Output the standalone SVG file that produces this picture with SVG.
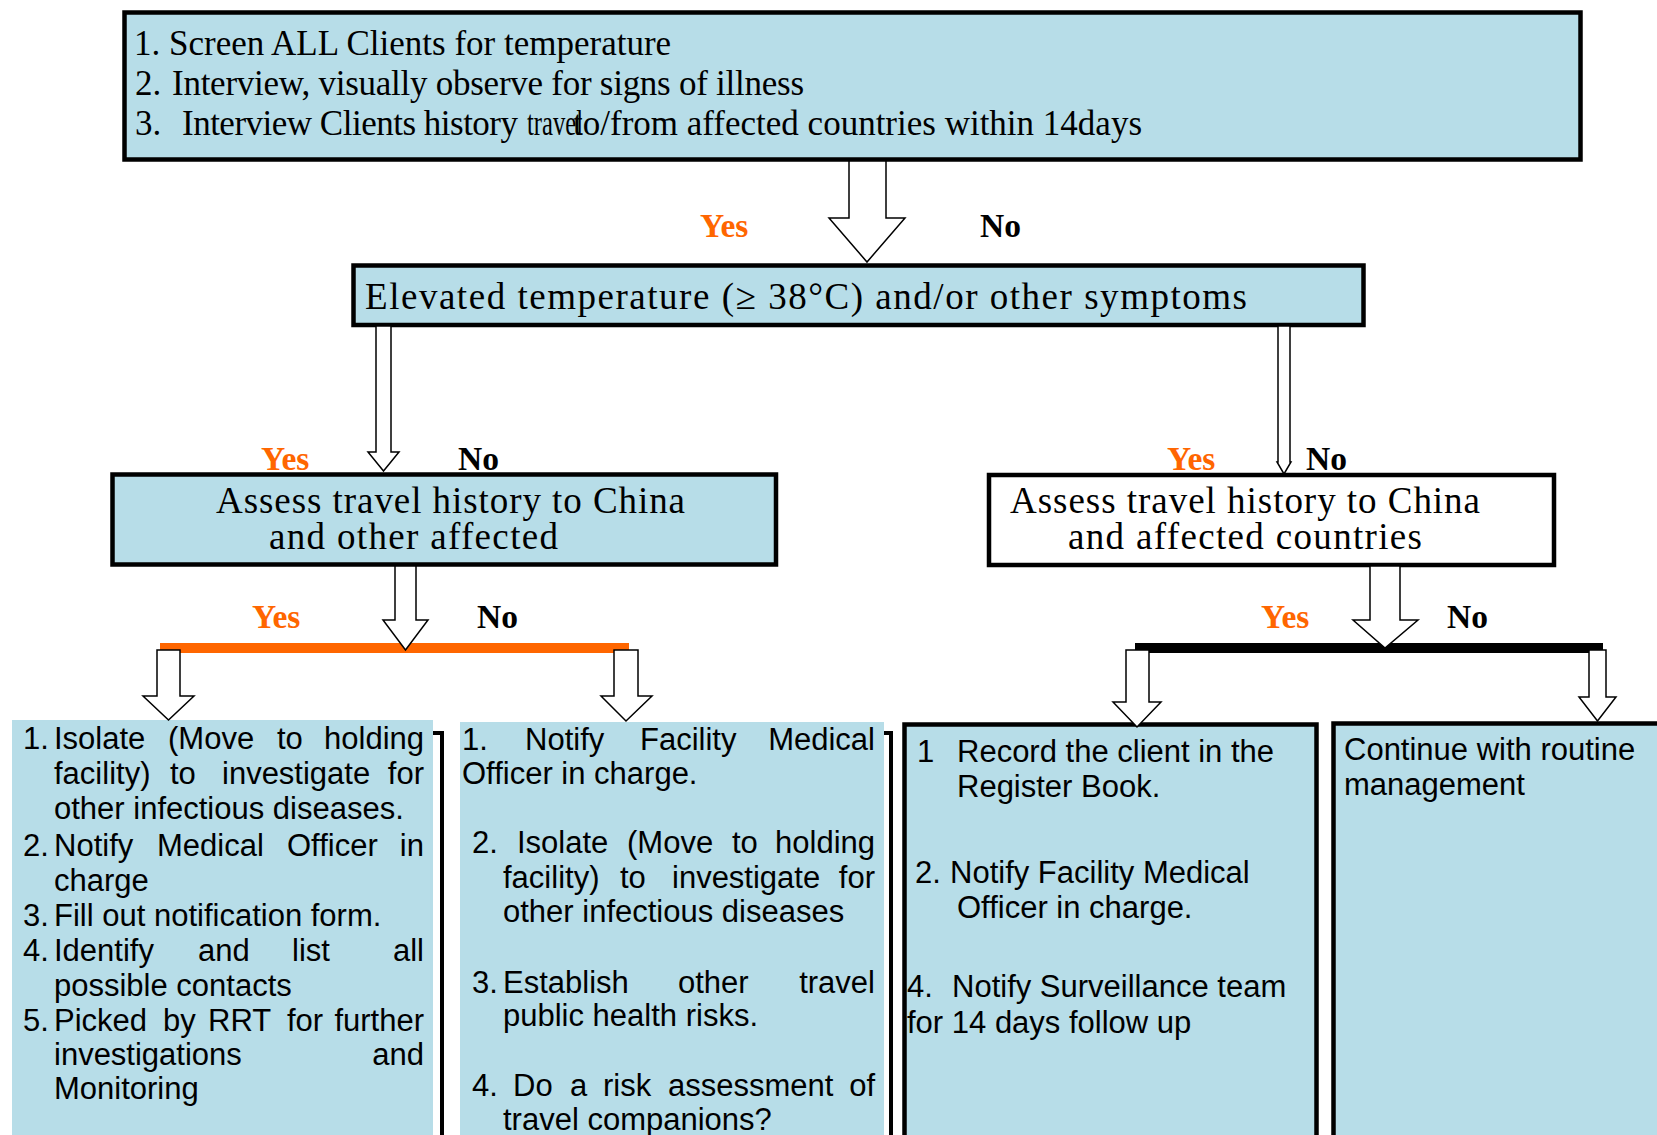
<svg xmlns="http://www.w3.org/2000/svg" width="1657" height="1135" viewBox="0 0 1657 1135">
<style>
.bg{fill:#ffffff}
.blue{fill:#b7dde8}
.bx{stroke:#000;stroke-width:4.5}
.ser{font-family:"Liberation Serif","Times New Roman",serif;fill:#000}
.top{font-size:35px}
.big{font-size:37px}
.yes{font-family:"Liberation Serif","Times New Roman",serif;font-weight:bold;font-size:33.5px;fill:#ff6600}
.no{font-family:"Liberation Serif","Times New Roman",serif;font-weight:bold;font-size:33.5px;fill:#000}
.sans{font-family:"Liberation Sans",Arial,sans-serif;font-size:31px;fill:#000}
.arr{fill:#fff;stroke:#000;stroke-width:1.5;stroke-linejoin:miter}
.brk{fill:none;stroke:#000;stroke-width:4}
</style>
<rect class="bg" x="0" y="0" width="1657" height="1135"/>

<g id="node-screen">
<rect class="blue bx" x="124.5" y="12.5" width="1456" height="147" stroke-width="5"/>
<text class="ser top" x="134" y="55">1. Screen ALL Clients for temperature</text>
<text class="ser top" x="135" y="95">2.</text>
<text class="ser top" x="172" y="95" textLength="632">Interview, visually observe for signs of illness</text>
<text class="ser top" x="135" y="135">3.</text>
<text class="ser top" x="182" y="135" textLength="336">Interview Clients history</text>
<text class="ser top" x="527" y="135" textLength="56" lengthAdjust="spacingAndGlyphs">travel</text>
<text class="ser top" x="1142" y="135" text-anchor="end">to/from affected countries within 14days</text>
</g>

<g id="node-elevated">
<rect class="blue bx" x="353.5" y="265.5" width="1010" height="59.5"/>
<text class="ser big" x="365" y="309" textLength="882">Elevated temperature (≥ 38°C) and/or other symptoms</text>
</g>

<g id="node-assess-left">
<rect class="blue bx" x="112.5" y="474.5" width="663.5" height="90"/>
<text class="ser big" x="216" y="513" textLength="469">Assess travel history to China</text>
<text class="ser big" x="269" y="549" textLength="289">and other affected</text>
</g>

<g id="node-assess-right">
<rect fill="#fff" class="bx" x="989" y="475" width="565" height="90"/>
<text class="ser big" x="1010" y="513" textLength="470">Assess travel history to China</text>
<text class="ser big" x="1068" y="549" textLength="354">and affected countries</text>
</g>

<g id="node-box1">
<rect class="blue" x="12" y="720" width="421" height="415"/>
<path class="brk" d="M433,733 H442 V1135"/>
<text class="sans" y="749"><tspan x="23">1.</tspan><tspan x="54">Isolate</tspan><tspan x="168">(Move</tspan><tspan x="277">to</tspan></text>
<text class="sans" x="424" y="749" text-anchor="end">holding</text>
<text class="sans" y="784"><tspan x="54">facility)</tspan><tspan x="170">to</tspan><tspan x="222">investigate</tspan></text>
<text class="sans" x="424" y="784" text-anchor="end">for</text>
<text class="sans" x="54" y="819">other infectious diseases.</text>
<text class="sans" y="856"><tspan x="23">2.</tspan><tspan x="54">Notify</tspan><tspan x="157">Medical</tspan><tspan x="287">Officer</tspan></text>
<text class="sans" x="424" y="856" text-anchor="end">in</text>
<text class="sans" x="54" y="891">charge</text>
<text class="sans" y="926"><tspan x="23">3.</tspan><tspan x="54">Fill out notification form.</tspan></text>
<text class="sans" y="961"><tspan x="23">4.</tspan><tspan x="54">Identify</tspan><tspan x="198">and</tspan><tspan x="292">list</tspan></text>
<text class="sans" x="424" y="961" text-anchor="end">all</text>
<text class="sans" x="54" y="996">possible contacts</text>
<text class="sans" y="1031"><tspan x="23">5.</tspan><tspan x="54">Picked</tspan><tspan x="163">by</tspan><tspan x="208">RRT</tspan><tspan x="287">for</tspan></text>
<text class="sans" x="424" y="1031" text-anchor="end">further</text>
<text class="sans" x="54" y="1065">investigations</text>
<text class="sans" x="424" y="1065" text-anchor="end">and</text>
<text class="sans" x="54" y="1099">Monitoring</text>
</g>

<g id="node-box2">
<rect class="blue" x="460" y="722" width="424" height="413"/>
<path class="brk" d="M884,733 H891 V1135"/>
<text class="sans" y="750"><tspan x="462">1.</tspan><tspan x="525">Notify</tspan><tspan x="640">Facility</tspan></text>
<text class="sans" x="875" y="750" text-anchor="end">Medical</text>
<text class="sans" x="462" y="784">Officer in charge.</text>
<text class="sans" y="853"><tspan x="472">2.</tspan><tspan x="517">Isolate</tspan><tspan x="627">(Move</tspan><tspan x="732">to</tspan></text>
<text class="sans" x="875" y="853" text-anchor="end">holding</text>
<text class="sans" y="888"><tspan x="503">facility)</tspan><tspan x="620">to</tspan><tspan x="672">investigate</tspan></text>
<text class="sans" x="875" y="888" text-anchor="end">for</text>
<text class="sans" x="503" y="922">other infectious diseases</text>
<text class="sans" y="993"><tspan x="472">3.</tspan><tspan x="503">Establish</tspan><tspan x="678">other</tspan></text>
<text class="sans" x="875" y="993" text-anchor="end">travel</text>
<text class="sans" x="503" y="1026">public health risks.</text>
<text class="sans" y="1096"><tspan x="472">4.</tspan><tspan x="513">Do</tspan><tspan x="570">a</tspan><tspan x="603">risk</tspan><tspan x="668">assessment</tspan></text>
<text class="sans" x="875" y="1096" text-anchor="end">of</text>
<text class="sans" x="503" y="1130">travel companions?</text>
</g>

<g id="node-box3">
<rect class="blue bx" x="904.5" y="724.5" width="412" height="430" stroke-width="5"/>
<text class="sans" y="762"><tspan x="917">1</tspan><tspan x="957">Record the client in the</tspan></text>
<text class="sans" x="957" y="797">Register Book.</text>
<text class="sans" y="883"><tspan x="915">2.</tspan><tspan x="950">Notify Facility Medical</tspan></text>
<text class="sans" x="957" y="918">Officer in charge.</text>
<text class="sans" y="997"><tspan x="907">4.</tspan><tspan x="952">Notify Surveillance team</tspan></text>
<text class="sans" x="907" y="1033">for 14 days follow up</text>
</g>

<g id="node-box4">
<rect class="blue bx" x="1333.5" y="723.5" width="340" height="430" stroke-width="5"/>
<text class="sans" x="1344" y="760">Continue with routine</text>
<text class="sans" x="1344" y="795">management</text>
</g>

<g id="connectors">
<rect x="160" y="643" width="469" height="10" fill="#ff6600"/>
<rect x="1135" y="643" width="468" height="10" fill="#000"/>
<polygon class="arr" points="849,161 886,161 886,218 905,218 867,262 829,218 849,218"/>
<polygon class="arr" points="376,326 391,326 391,452 399,452 383.5,471 368,452 376,452"/>
<polygon class="arr" points="1278,326 1290,326 1290,462 1291,462 1284,474 1277,462 1278,462"/>
<polygon class="arr" points="395,566 416,566 416,620 428,620 405.5,650 383,620 395,620"/>
<polygon class="arr" points="157,650 180,650 180,696 194,696 168.5,720 143,696 157,696"/>
<polygon class="arr" points="614,650 638,650 638,696 652,696 626,721 601,696 614,696"/>
<polygon class="arr" points="1370,566 1400,566 1400,620 1418,620 1385,648 1353,620 1370,620"/>
<polygon class="arr" points="1126,650 1149,650 1149,702 1161,702 1137,727 1113,702 1126,702"/>
<polygon class="arr" points="1589,650 1606,650 1606,697 1616,697 1597.5,721 1579,697 1589,697"/>
<text class="yes" x="700" y="237">Yes</text>
<text class="no" x="980" y="237">No</text>
<text class="yes" x="261" y="470">Yes</text>
<text class="no" x="458" y="470">No</text>
<text class="yes" x="1167" y="470">Yes</text>
<text class="no" x="1306" y="470">No</text>
<text class="yes" x="252" y="628">Yes</text>
<text class="no" x="477" y="628">No</text>
<text class="yes" x="1261" y="628">Yes</text>
<text class="no" x="1447" y="628">No</text>
</g>
</svg>
